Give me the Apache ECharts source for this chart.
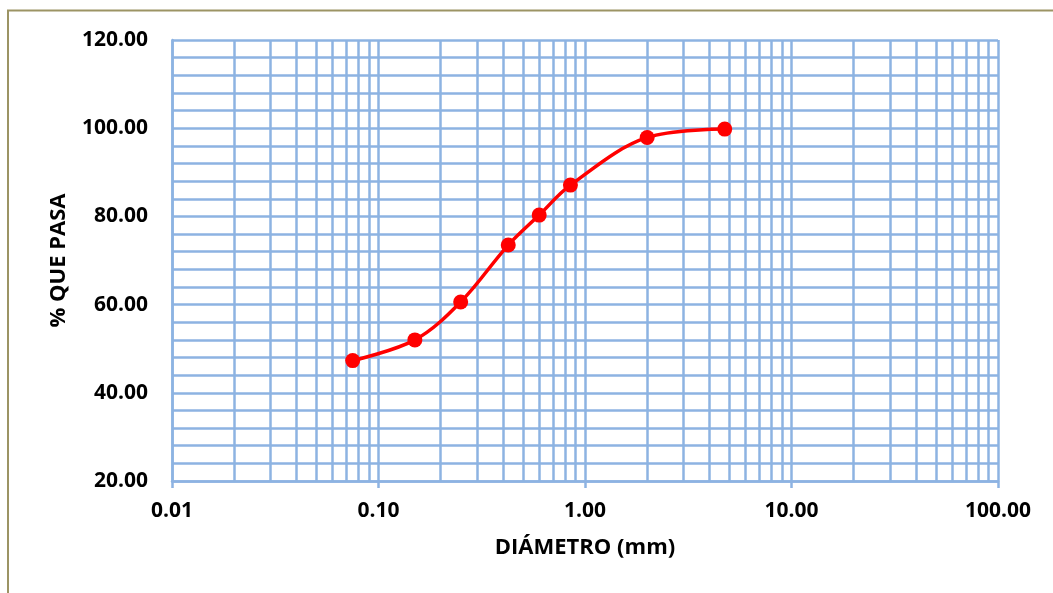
<!DOCTYPE html>
<html>
<head>
<meta charset="utf-8">
<script src="https://cdn.jsdelivr.net/npm/echarts@6/dist/echarts.min.js"></script>
<style>
html,body{margin:0;padding:0;background:#fff;}
#c{width:1053px;height:593px;}
</style>
</head>
<body>
<div id="c"></div>
<script>
// Sieve diameters (mm) and % passing
const diameters = [0.075, 0.15, 0.25, 0.425, 0.6, 0.85, 2.0, 4.75];
const percentPassing = [47.3, 52.0, 60.6, 73.5, 80.3, 87.1, 97.9, 99.8];
const xTitle = 'DIÁMETRO (mm)';
const yTitle = '% QUE PASA';
const decades = [0.01, 0.1, 1, 10];
const minorMultipliers = [2, 3, 4, 5, 6, 7, 8, 9];

const gridColor = '#8db3e2';
const font = '"Open Sans", "Liberation Sans", sans-serif';

const minorX = [];
decades.forEach(d => minorMultipliers.forEach(m => minorX.push({xAxis: +(d * m).toPrecision(6)})));

const chart = echarts.init(document.getElementById('c'), null, {renderer: 'canvas'});
chart.setOption({
  animation: false,
  backgroundColor: '#fff',
  graphic: [{
    type: 'rect', silent: true, z: -10,
    shape: {x: 8, y: 10.5, width: 1200, height: 800},
    style: {fill: 'none', stroke: '#9c9464', lineWidth: 2}
  }],
  grid: {left: 172, right: 55, top: 40, bottom: 112, containLabel: false},
  xAxis: {
    type: 'log', logBase: 10, min: 0.01, max: 100,
    name: xTitle, nameLocation: 'middle', nameGap: 56,
    nameTextStyle: {fontFamily: font, fontWeight: 'bold', fontSize: 22, color: '#000'},
    axisLine: {show: true, lineStyle: {color: gridColor, width: 2.5}},
    axisTick: {show: true, length: 7, lineStyle: {color: gridColor, width: 2.5}},
    axisLabel: {
      margin: 20, fontFamily: font, fontWeight: 'bold', fontSize: 21, color: '#000',
      formatter: v => Number(v).toFixed(2)
    },
    splitLine: {show: true, lineStyle: {color: gridColor, width: 2.5}},
    minorTick: {show: false},
    minorSplitLine: {show: false}
  },
  yAxis: {
    type: 'value', min: 20, max: 120, interval: 20,
    name: yTitle, nameLocation: 'middle', nameGap: 102,
    nameTextStyle: {fontFamily: font, fontWeight: 'bold', fontSize: 22, color: '#000'},
    axisLine: {show: true, lineStyle: {color: gridColor, width: 2.5}},
    axisTick: {show: false},
    axisLabel: {
      margin: 24, fontFamily: font, fontWeight: 'bold', fontSize: 21, color: '#000',
      formatter: v => Number(v).toFixed(2)
    },
    splitLine: {show: true, lineStyle: {color: gridColor, width: 2.5}},
    minorTick: {show: false, splitNumber: 5},
    minorSplitLine: {show: true, lineStyle: {color: gridColor, width: 2.5}}
  },
  series: [
    {
      type: 'line', data: [], z: 1, silent: true,
      markLine: {
        silent: true, symbol: ['none', 'none'], animation: false,
        label: {show: false},
        lineStyle: {color: gridColor, width: 2.5, type: 'solid'},
        emphasis: {disabled: true},
        data: minorX
      }
    },
    {
      type: 'line', z: 5,
      data: diameters.map((d, i) => [d, percentPassing[i]]),
      smooth: 0.35,
      symbol: 'circle', symbolSize: 15,
      itemStyle: {color: '#ff0000'},
      lineStyle: {color: '#ff0000', width: 3.5}
    }
  ]
});
</script>
</body>
</html>
